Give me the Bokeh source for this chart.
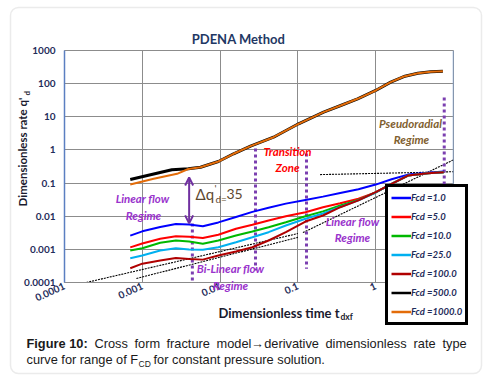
from bokeh.plotting import figure
from bokeh.models import (FixedTicker, PrintfTickFormatter, Label, Legend, LegendItem,
                          Span, Arrow, OpenHead, BoxAnnotation, Range1d)
from bokeh.embed import file_html
from bokeh.resources import INLINE

# ---------------- data ----------------
t_curves = [0.0007, 0.001, 0.0017, 0.0027, 0.004, 0.006, 0.0095, 0.016, 0.026, 0.042,
            0.07, 0.125, 0.21, 0.35, 0.6, 1.0, 1.6, 2.6, 4.7, 7.5]
q_fcd1 = [0.0026, 0.0035, 0.0047, 0.0058, 0.0056, 0.0050, 0.0065, 0.0095, 0.0135, 0.018,
          0.024, 0.031, 0.039, 0.050, 0.065, 0.09, 0.13, 0.18, 0.204, 0.223]
q_fcd5 = [0.00115, 0.0015, 0.0021, 0.0025, 0.0024, 0.0022, 0.00275, 0.0042, 0.0055, 0.0074,
          0.010, 0.0132, 0.0187, 0.0247, 0.0336, 0.052, 0.095, 0.169, 0.199, 0.213]
q_fcd10 = [0.00092, 0.00108, 0.00158, 0.00185, 0.00173, 0.00147, 0.00185, 0.00262, 0.00346, 0.00467,
           0.0066, 0.0100, 0.0140, 0.021, 0.031, 0.052, 0.095, 0.169, 0.199, 0.213]
q_fcd25 = [0.00054, 0.00065, 0.00092, 0.00108, 0.00099, 0.00097, 0.00116, 0.00164, 0.00233, 0.0033,
           0.00525, 0.0084, 0.0121, 0.019, 0.030, 0.052, 0.095, 0.169, 0.199, 0.213]
q_fcd100 = [0.00027, 0.00037, 0.00046, 0.00055, 0.00051, 0.00049, 0.00065, 0.00086, 0.00116, 0.00185,
            0.0033, 0.0069, 0.0105, 0.0187, 0.030, 0.053, 0.095, 0.169, 0.199, 0.213]

t_fcd500 = [0.0007, 0.0024, 0.0039, 0.0056, 0.0095, 0.0149, 0.0246, 0.0486, 0.102, 0.214,
            0.355, 0.586, 1.0, 1.56, 2.3, 3.48, 5.1, 7.3]
q_fcd500 = [0.128, 0.252, 0.27, 0.30, 0.448, 0.765, 1.30, 2.42, 6.15, 13.8,
            21.9, 34.9, 62.2, 111, 164, 207, 228, 238]
t_fcd1000 = [0.0007, 0.0014, 0.0028, 0.0039, 0.0056, 0.0095, 0.0149, 0.0246, 0.0486, 0.102,
             0.214, 0.355, 0.586, 1.0, 1.56, 2.3, 3.48, 5.1, 7.3]
q_fcd1000 = [0.091, 0.135, 0.19, 0.265, 0.30, 0.448, 0.765, 1.30, 2.42, 6.15,
             13.8, 21.9, 34.9, 62.2, 111, 164, 207, 228, 238]

fcd_labels = ["Fcd =1.0", "Fcd =5.0", "Fcd =10.0", "Fcd =25.0", "Fcd =100.0", "Fcd =500.0", "Fcd =1000.0"]

# dotted straight-line guides (t0, q0) -> (t1, q1)
guide_t0 = [1.47e-4, 8.4e-4, 0.116, 0.193]
guide_q0 = [8.7e-5, 1.32e-4, 0.0032, 0.18]
guide_t1 = [0.1, 0.1, 20.0, 10.0]
guide_q1 = [0.0030, 0.0023, 1.1, 0.22]

# purple regime boundaries
bound_t = [0.0044, 0.0285, 0.129, 7.6]
bound_q_top = [0.006, 1.1, 0.78, 38.0]
bound_q_bot = [1.15e-4, 2.3e-4, 2.6e-4, 0.09]

# arrow for delta q'd
arrow_t = 0.0040
arrow_q_top = 0.147
arrow_q_bot = 0.0061

x_ticks = [1e-4, 1e-3, 1e-2, 1e-1, 1.0]
y_ticks = [1e-4, 1e-3, 1e-2, 1e-1, 1.0, 10.0, 100.0, 1000.0]

# ---------------- main chart ----------------
W, H = 485, 376
FONT = "Lato"
p = figure(width=W, height=H, x_axis_type="log", y_axis_type="log",
           x_range=(1e-4, 10), y_range=(1e-4, 1000),
           output_backend="svg", toolbar_location=None,
           min_border_left=64, min_border_right=W - 453, min_border_top=50,
           min_border_bottom=H - 282)
p.background_fill_color = "white"
p.border_fill_color = "white"
p.outline_line_color = "#8c8c8c"

p.xaxis.ticker = FixedTicker(ticks=x_ticks)
p.yaxis.ticker = FixedTicker(ticks=y_ticks)
p.xaxis.formatter = PrintfTickFormatter(format="%g")
p.yaxis.formatter = PrintfTickFormatter(format="%g")
for ax in (p.xaxis[0], p.yaxis[0]):
    ax.major_tick_line_color = None
    ax.minor_tick_line_color = None
    ax.major_tick_out = 0
    ax.major_tick_in = 0
    ax.minor_tick_out = 0
    ax.minor_tick_in = 0
    ax.major_label_text_font = FONT
    ax.major_label_text_font_style = "bold"
    ax.major_label_text_font_size = "10px"
    ax.major_label_text_color = "#1f2d5a"
p.yaxis.axis_line_color = "#5b7fc1"
p.yaxis.axis_line_width = 1.5
p.yaxis.major_label_standoff = 9
p.xaxis.axis_line_color = "#8c8c8c"
p.xaxis.major_label_orientation = 0.42
p.xaxis.major_label_standoff = 3
p.grid.grid_line_color = "#8c8c8c"
p.grid.grid_line_width = 1
p.grid.grid_line_alpha = 1.0

p.add_layout(Span(location=10, dimension="height", line_color="#7f9fd0", line_width=1.5))

# guides
p.segment(x0=guide_t0, y0=guide_q0, x1=guide_t1, y1=guide_q1,
          line_color="black", line_width=1.1, line_dash="2 1")

# regime boundaries
p.segment(x0=bound_t, y0=bound_q_top, x1=bound_t, y1=bound_q_bot,
          line_color="#7b3fb0", line_width=3, line_dash="3 3")

# curves
colors = ["#0000ff", "#ff0000", "#00b800", "#00b0f0", "#b00000", "#000000", "#e36c09"]
widths = [2.5, 2.5, 2.5, 2.5, 2.5, 2.5, 2.5]
p.line(t_curves, q_fcd1, line_color=colors[0], line_width=2)
p.line(t_curves, q_fcd5, line_color=colors[1], line_width=2)
p.line(t_curves, q_fcd10, line_color=colors[2], line_width=2)
p.line(t_curves, q_fcd25, line_color=colors[3], line_width=2)
p.line(t_curves, q_fcd100, line_color=colors[4], line_width=2)
p.line(t_fcd500, q_fcd500, line_color=colors[5], line_width=3)
p.line(t_fcd1000, q_fcd1000, line_color=colors[6], line_width=2)

# arrow
p.add_layout(Arrow(x_start=arrow_t, y_start=arrow_q_bot, x_end=arrow_t, y_end=arrow_q_top,
                   line_color="#7030a0", line_width=2,
                   start=OpenHead(size=8, line_color="#7030a0", line_width=2),
                   end=OpenHead(size=8, line_color="#7030a0", line_width=2)))

# ---------------- overlay for texts, legend and frame (page pixel coords) ----------------
q = figure(width=W, height=H, x_range=Range1d(0, W), y_range=Range1d(H, 0),
           x_axis_location=None, y_axis_location=None, min_border=0,
           output_backend="svg", toolbar_location=None)
q.background_fill_color = None
q.border_fill_color = None
q.outline_line_color = None
q.grid.visible = False
q.margin = (-H, 0, 0, 0)

nan = float("nan")
swatches = [q.line(x=[nan, nan], y=[nan, nan], line_color=c, line_width=w)
            for c, w in zip(colors, widths)]
legend = Legend(items=[LegendItem(label=l, renderers=[r]) for l, r in zip(fcd_labels, swatches)],
                location=(385, H - 325))
legend.label_text_font = FONT
legend.label_text_font_size = "9.5px"
legend.label_text_font_style = "bold italic"
legend.label_text_color = "#1f2d5a"
legend.border_line_color = "black"
legend.border_line_width = 3
legend.border_line_alpha = 1
legend.background_fill_color = "white"
legend.background_fill_alpha = 1
legend.padding = 3
legend.spacing = 4
legend.margin = 0
legend.glyph_width = 20
legend.glyph_height = 15
legend.label_height = 15
legend.label_standoff = 0
q.add_layout(legend)

q.add_layout(BoxAnnotation(left=10, right=481, top=7, bottom=373,
                           fill_alpha=0, line_color="#bdbdbd", line_width=1.5,
                           border_radius=8))


def lab(text, X, Y, size, color, style="normal", align="left", baseline="middle",
        angle=0.0, font=FONT):
    q.add_layout(Label(x=X, y=Y, text=text, text_font=font, text_font_size=f"{size}px",
                       text_font_style=style, text_color=color, text_align=align,
                       text_baseline=baseline, angle=angle))


# title and axis titles
lab("PDENA Method", 238, 38, 13, "#1f3864", "bold", "center")
lab("Dimensionless time t", 339, 312, 13, "#1a1a2e", "bold", "right")
lab("dxf", 340, 316, 8.5, "#1a1a2e", "bold", "left")
lab("Dimensionless rate q'", 22, 97, 11.5, "#1a1a2e", "bold", "right", angle=1.5708)
lab("d", 26, 95, 8, "#1a1a2e", "bold", "left", angle=1.5708)

# regime annotations
purple = "#9932cc"
lab("Linear flow", 142, 198, 11.5, purple, "bold italic", "center")
lab("Regime", 143, 215, 11.5, purple, "bold italic", "center")
lab("Transition", 287, 151, 11.5, "#ff0000", "bold italic", "center")
lab("Zone", 287, 167, 11.5, "#ff0000", "bold italic", "center")
lab("Pseudoradial", 410, 123, 11.5, "#7f6030", "bold italic", "center")
lab("Regime", 411, 139, 11.5, "#7f6030", "bold italic", "center")
lab("Linear flow", 352, 221, 11.5, purple, "bold italic", "center")
lab("Regime", 352, 237, 11.5, purple, "bold italic", "center")
lab("Bi-Linear flow", 230, 268, 11.5, purple, "bold italic", "center")
lab("Regime", 230, 285, 11.5, purple, "bold italic", "center")

brown = "#5e4830"
lab("\u0394q", 195, 193, 15, brown, "normal", "left")
lab("'", 214, 187, 10, brown, "normal", "left")
lab("d=", 215, 198, 10, brown, "normal", "left")
lab("35", 226, 193, 14, brown, "normal", "left")

# caption (first line justified between x=26 and x=466)
cap = "Liberation Sans"
ccol = "#1a1a1a"
lab("Figure 10:", 26, 343, 12.8, ccol, "bold", font=cap)
for w, X in [("Cross", 94), ("form", 134), ("fracture", 166), ("model\u2192derivative", 216),
             ("dimensionless", 325), ("rate", 413), ("type", 442)]:
    lab(w, X, 343, 12.8, ccol, font=cap)
lab("curve for range of F", 26, 359, 12.8, ccol, font=cap)
lab("CD", 138, 363, 8.5, ccol, font=cap)
lab("for constant pressure solution.", 153, 359, 12.8, ccol, font=cap)

open("out.html", "w").write(file_html([p, q], INLINE))
